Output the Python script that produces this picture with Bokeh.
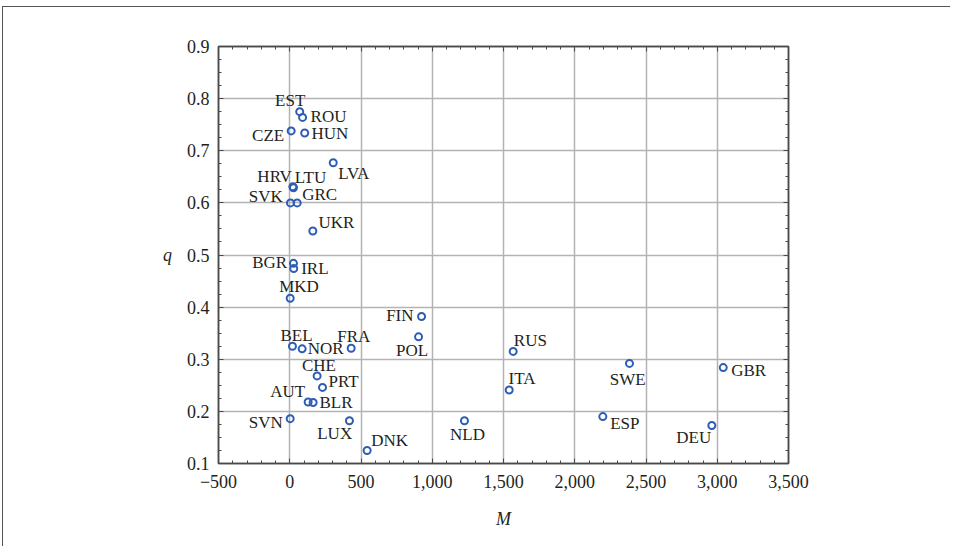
from bokeh.plotting import figure
from bokeh.models import (ColumnDataSource, FixedTicker, CustomJSTickFormatter, LinearAxis,
                          Label, Range1d)
from bokeh.core.properties import value
from bokeh.embed import file_html
from bokeh.resources import INLINE

# ---- data ----
countries = ["EST", "ROU", "CZE", "HUN", "LVA", "HRV", "LTU", "SVK", "GRC", "UKR",
             "BGR", "IRL", "MKD", "FIN", "POL", "BEL", "NOR", "FRA", "CHE", "PRT",
             "AUT", "BLR", "SVN", "LUX", "DNK", "RUS", "ITA", "NLD", "SWE", "GBR",
             "ESP", "DEU"]
M_values = [70, 90, 10, 105, 305, 22, 26, 5, 52, 162,
            26, 28, 3, 925, 904, 19, 87, 431, 192, 230,
            129, 164, 3, 419, 543, 1568, 1540, 1226, 2384, 3042,
            2197, 2962]
q_values = [0.775, 0.764, 0.738, 0.734, 0.677, 0.631, 0.629, 0.600, 0.600, 0.546,
            0.484, 0.474, 0.417, 0.382, 0.343, 0.325, 0.320, 0.321, 0.268, 0.246,
            0.218, 0.217, 0.186, 0.182, 0.125, 0.315, 0.241, 0.182, 0.292, 0.284,
            0.190, 0.173]
x_ticks = [-500, 0, 500, 1000, 1500, 2000, 2500, 3000, 3500]
y_ticks = [0.1, 0.2, 0.3, 0.4, 0.5, 0.6, 0.7, 0.8, 0.9]

# ---- label placement (screen px offsets, alignment) ----
label_layout = {
    "EST": (-9.5, -11.5, "center"), "ROU": (8, -1, "left"), "CZE": (-7, 5, "right"),
    "HUN": (6.7, 0, "left"), "LVA": (5, 11, "left"), "HRV": (-1, -10, "right"),
    "LTU": (1.3, -10, "left"), "SVK": (-7.7, -6.4, "right"), "GRC": (5, -8.7, "left"),
    "UKR": (5.7, -9, "left"), "BGR": (-6.3, -1, "right"), "IRL": (7.4, 0, "left"),
    "MKD": (8.8, -12, "center"), "FIN": (-8, -1, "right"), "POL": (-6.5, 13.7, "center"),
    "BEL": (4, -11, "center"), "NOR": (5.6, 0, "left"), "FRA": (2.6, -12, "center"),
    "CHE": (1.8, -10.6, "center"), "PRT": (6, -6.3, "left"), "AUT": (-3, -10, "right"),
    "BLR": (6.3, 0, "left"), "SVN": (-7.4, 4.3, "right"), "LUX": (2.7, 12.7, "right"),
    "DNK": (4, -10.3, "left"), "RUS": (0.6, -11.3, "left"), "ITA": (-0.7, -12, "left"),
    "NLD": (3, 13.7, "center"), "SWE": (-1.7, 16, "center"), "GBR": (8, 3.4, "left"),
    "ESP": (7.4, 7, "left"), "DEU": (-0.6, 12.3, "right"),
}

FONT = "Liberation Serif"
TXT = "#231f20"
BLUE = "#2d5db5"
GRID = "#b3b3b3"
FRAME = "#4a4a4a"

src = ColumnDataSource(dict(
    M=M_values, q=q_values, name=countries,
    dx=[label_layout[c][0] for c in countries],
    dy=[label_layout[c][1] for c in countries],
    align=[label_layout[c][2] for c in countries],
))

p = figure(width=948, height=540, output_backend="svg", toolbar_location=None,
           x_range=Range1d(-500, 3500), y_range=Range1d(0.1, 0.9),
           min_border_left=215, min_border_right=163, min_border_top=39, min_border_bottom=84)
p.styles = {"position": "relative", "left": "2px", "top": "6px",
            "border-top": "1px solid #555", "border-left": "1px solid #555"}

p.background_fill_color = "white"
p.border_fill_color = "white"
p.outline_line_color = FRAME
p.outline_line_width = 1.5

minor_x = [v for v in range(-500, 3501, 100) if v % 500 != 0]
minor_y = [round(0.1 + i * 0.025, 3) for i in range(33) if i % 4 != 0]
xt = FixedTicker(ticks=x_ticks, minor_ticks=minor_x)
yt = FixedTicker(ticks=y_ticks, minor_ticks=minor_y)

xb = p.below[0]
yl = p.left[0]
xb.ticker = xt
yl.ticker = yt
xb.formatter = CustomJSTickFormatter(code="""
const a = Math.abs(tick).toLocaleString('en-US');
return tick < 0 ? '\u2212' + a : a;""")
yl.formatter = CustomJSTickFormatter(code="return tick.toFixed(1);")

blank = CustomJSTickFormatter(code="return '';")
p.add_layout(LinearAxis(ticker=xt, formatter=blank, major_label_standoff=0), "above")
p.add_layout(LinearAxis(ticker=yt, formatter=blank, major_label_standoff=0), "right")

for ax in p.axis:
    ax.axis_line_color = FRAME
    ax.axis_line_width = 1.5
    ax.major_tick_in = 5
    ax.major_tick_out = 0
    ax.minor_tick_in = 3
    ax.minor_tick_out = 0
    ax.major_tick_line_color = FRAME
    ax.minor_tick_line_color = FRAME
    ax.major_label_text_font = FONT
    ax.major_label_text_color = TXT

xb.major_label_text_font_size = "18px"
yl.major_label_text_font_size = "18px"
xb.major_label_standoff = 11
yl.major_label_standoff = 9
xb.axis_label = "M"
xb.axis_label_text_font = FONT
xb.axis_label_text_font_style = "italic"
xb.axis_label_text_font_size = "18px"
xb.axis_label_text_color = TXT
xb.axis_label_standoff = 18

q_done = False
try:
    yl.axis_label_orientation = "horizontal"
    yl.axis_label = "q"
    yl.axis_label_text_font = FONT
    yl.axis_label_text_font_style = "italic"
    yl.axis_label_text_font_size = "18px"
    yl.axis_label_text_color = TXT
    yl.axis_label_standoff = 12
    q_done = True
except Exception:
    pass
if not q_done:
    p.add_layout(Label(x=-500, y=0.5, x_offset=-52, text="q", text_font=FONT,
                       text_font_style="italic", text_font_size="18px", text_color=TXT,
                       text_align="center", text_baseline="middle"))

p.xgrid.ticker = xt
p.ygrid.ticker = yt
p.grid.grid_line_color = GRID
p.grid.grid_line_width = 1.5

p.scatter("M", "q", source=src, marker="circle", size=7, fill_color=None,
          line_color=BLUE, line_width=2)
p.text("M", "q", text="name", source=src, x_offset="dx", y_offset="dy",
       text_align="align", text_baseline="middle", text_font=value(FONT),
       text_font_size="17px", text_color=TXT)

open("out.html", "w").write(file_html(p, INLINE))
